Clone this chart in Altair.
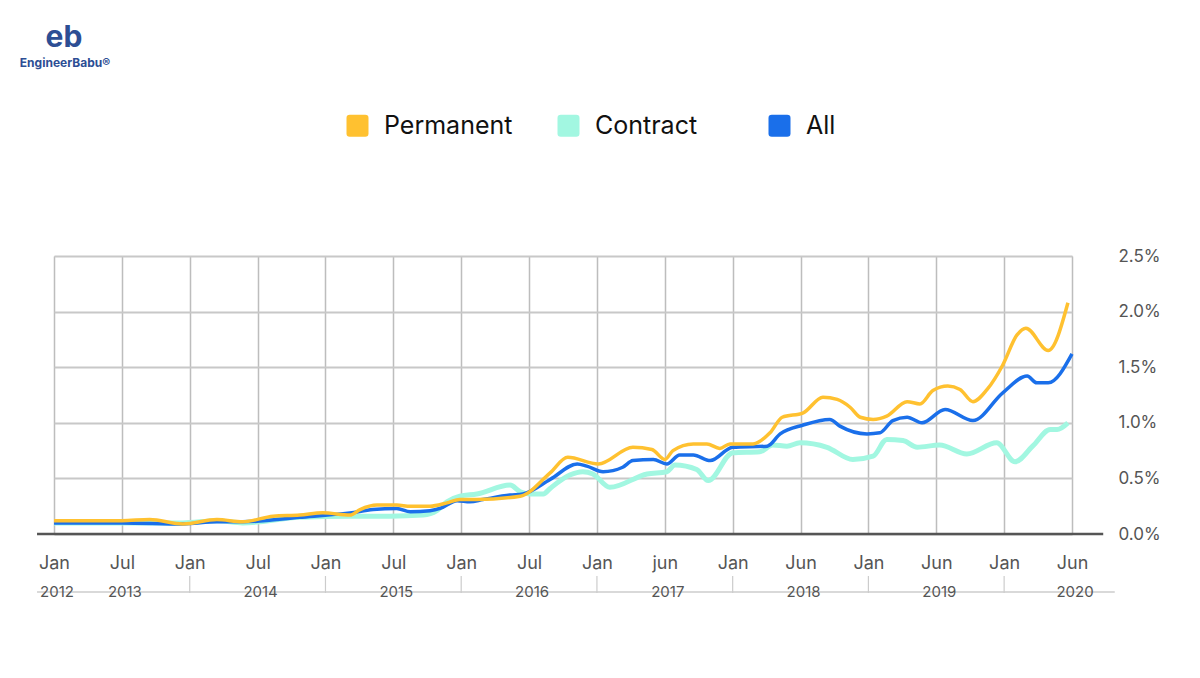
import json
import altair as alt
import pandas as pd

# ---------------- data ----------------
series_names = ["Permanent", "Contract", "All"]
series_colors = ["#FFC130", "#A2F7E1", "#1A6FEA"]

month_labels = ["Jan", "Jul", "Jan", "Jul", "Jan", "Jul", "Jan", "Jul",
                "Jan", "jun", "Jan", "Jun", "Jan", "Jun", "Jan", "Jun"]
month_pos = list(range(16))
year_labels = ["2012", "2013", "2014", "2015", "2016", "2017", "2018", "2019", "2020"]
year_pos = [0, 1, 3, 5, 7, 9, 11, 13, 15]
jan_tick_pos = [2, 4, 6, 8, 10, 12, 14]
y_ticks = [0, 0.5, 1.0, 1.5, 2.0, 2.5]

perm_x = [0, 1.0, 1.41, 1.9, 2.4, 2.78, 3.23, 3.62, 3.96, 4.36, 4.51, 4.76, 5.05, 5.25,
          5.54, 5.79, 5.98, 6.23, 6.87, 7.31, 7.57, 8.02, 8.53, 8.81, 9.0, 9.12, 9.42,
          9.62, 9.81, 9.96, 10.3, 10.55, 10.73, 11.04, 11.33, 11.54, 11.73, 11.88, 12.07,
          12.27, 12.57, 12.76, 12.95, 13.17, 13.35, 13.54, 13.75, 13.98, 14.19, 14.32,
          14.65, 14.94]
perm_y = [0.12, 0.12, 0.13, 0.09, 0.13, 0.11, 0.16, 0.17, 0.19, 0.17, 0.22, 0.26, 0.26,
          0.25, 0.25, 0.28, 0.31, 0.31, 0.34, 0.55, 0.69, 0.63, 0.78, 0.76, 0.67, 0.75,
          0.81, 0.81, 0.77, 0.81, 0.81, 0.91, 1.05, 1.09, 1.23, 1.21, 1.14, 1.05, 1.03,
          1.06, 1.19, 1.17, 1.29, 1.33, 1.30, 1.19, 1.30, 1.52, 1.79, 1.85, 1.65, 2.08]

contract_x = [0, 1.0, 1.9, 2.4, 2.78, 3.62, 4.36, 4.95, 5.44, 5.64, 5.79, 5.98, 6.23, 6.72,
              6.87, 7.01, 7.21, 7.31, 7.60, 7.79, 7.94, 8.19, 8.74, 9.03, 9.15, 9.47, 9.64,
              10.0, 10.40, 10.59, 10.80, 10.99, 11.39, 11.77, 12.07, 12.27, 12.51, 12.72,
              13.05, 13.45, 13.89, 14.16, 14.42, 14.68, 14.78, 14.94]
contract_y = [0.10, 0.10, 0.10, 0.12, 0.10, 0.15, 0.16, 0.16, 0.17, 0.21, 0.29, 0.34, 0.36,
              0.44, 0.38, 0.36, 0.36, 0.41, 0.53, 0.56, 0.54, 0.42, 0.54, 0.56, 0.62, 0.58,
              0.48, 0.73, 0.74, 0.80, 0.79, 0.82, 0.78, 0.67, 0.70, 0.85, 0.84, 0.78, 0.80,
              0.72, 0.82, 0.65, 0.79, 0.94, 0.94, 1.00]

all_x = [0, 1.0, 1.9, 2.4, 2.78, 3.62, 4.36, 4.70, 5.05, 5.25, 5.54, 5.69, 5.94, 6.13,
         6.32, 6.72, 6.91, 7.31, 7.71, 7.85, 8.09, 8.38, 8.53, 8.83, 9.03, 9.22, 9.42,
         9.67, 10.0, 10.51, 10.70, 11.04, 11.43, 11.58, 11.98, 12.17, 12.36, 12.57, 12.79,
         13.13, 13.54, 13.98, 14.34, 14.48, 14.65, 15.0]
all_y = [0.10, 0.10, 0.09, 0.11, 0.11, 0.15, 0.19, 0.22, 0.23, 0.20, 0.21, 0.23, 0.30,
         0.29, 0.31, 0.35, 0.36, 0.49, 0.63, 0.61, 0.56, 0.60, 0.66, 0.67, 0.63, 0.71,
         0.71, 0.66, 0.78, 0.79, 0.90, 0.98, 1.03, 0.97, 0.90, 0.91, 1.02, 1.05, 1.00,
         1.12, 1.02, 1.27, 1.42, 1.36, 1.36, 1.62]

logo_mark = "eb"
logo_text = "EngineerBabu®"

# ---------------- frames ----------------
def frame(name, xs, ys):
    return pd.DataFrame({"idx": xs, "value": ys, "series": name})

df_perm = frame("Permanent", perm_x, perm_y)
df_con = frame("Contract", contract_x, contract_y)
df_all = frame("All", all_x, all_y)

FONT = "Inter"
GREY = "#555555"
W, H = 1018, 278

xscale = alt.Scale(domain=[0, 15], nice=False, zero=False)
yscale = alt.Scale(domain=[0, 2.5], nice=False)
cscale = alt.Scale(domain=series_names, range=series_colors)

x_axis = alt.Axis(values=month_pos, labelExpr=f"{json.dumps(month_labels)}[datum.value]",
                  domain=False, ticks=False, grid=True, gridColor="#bdbdbd", gridWidth=1.5,
                  labelFontSize=18, labelColor=GREY, labelFont=FONT, labelPadding=20,
                  labelFlush=False, labelOverlap=False, title=None)
y_axis = alt.Axis(orient="right", values=y_ticks,
                  labelExpr="format(datum.value, '.1f') + '%'",
                  domain=False, ticks=False, grid=True, gridColor="#c8c8c8", gridWidth=2,
                  labelFontSize=17, labelColor=GREY, labelFont=FONT, labelPadding=46,
                  labelAlign="left", title=None)

X = lambda f: alt.X(f, scale=xscale, axis=x_axis)
Y = lambda f: alt.Y(f, scale=yscale, axis=y_axis)

def line_layer(df, width):
    return alt.Chart(df).mark_line(strokeWidth=width, interpolate="monotone").encode(
        x=X("idx:Q"),
        y=Y("value:Q"),
        stroke=alt.Stroke("series:N", scale=cscale, legend=None),
    )

l_con = line_layer(df_con, 5)
l_all = line_layer(df_all, 3.5)
l_perm = line_layer(df_perm, 3.5)

# legend via clipped (off-plot) filled points; data-driven domain so it is not merged
rounded_sq = ("M -0.7 -1 L 0.7 -1 Q 1 -1 1 -0.7 L 1 0.7 Q 1 1 0.7 1 L -0.7 1 "
              "Q -1 1 -1 0.7 L -1 -0.7 Q -1 -1 -0.7 -1 Z")
legend_df = pd.DataFrame({"name": series_names, "idx": [1, 1, 1], "value": [-3, -3, -3]})
legend_layer = alt.Chart(legend_df).mark_point(filled=True, clip=True, shape=rounded_sq).encode(
    x=X("idx:Q"),
    y=Y("value:Q"),
    fill=alt.Fill("name:N", scale=alt.Scale(range=series_colors), sort=series_names,
                  legend=alt.Legend(
                      orient="none", legendX=291, legendY=-143, direction="horizontal",
                      columns=3, gridAlign="all",
                      title=None, symbolType=rounded_sq, symbolSize=484, symbolOpacity=1,
                      symbolStrokeWidth=0, labelFontSize=25, labelFont=FONT,
                      labelColor="#111111", labelOffset=14, columnPadding=43, padding=0,
                      labelLimit=400)),
)

# baseline
base_df = pd.DataFrame({"x0": [-0.25], "x1": [15.46], "y": [0]})
baseline = alt.Chart(base_df).mark_rule(color=GREY, strokeWidth=2.5).encode(
    x=X("x0:Q"), x2="x1:Q", y=Y("y:Q"))

# year row line and ticks
yr_line_df = pd.DataFrame({"x0": [-0.25], "x1": [15.63]})
yr_line = alt.Chart(yr_line_df).mark_rule(color="#cccccc", strokeWidth=1.5).encode(
    x=X("x0:Q"), x2="x1:Q", y=alt.value(336))

jan_df = pd.DataFrame({"pos": jan_tick_pos})
jan_ticks = alt.Chart(jan_df).mark_rule(color="#cccccc", strokeWidth=1.2).encode(
    x=X("pos:Q"), y=alt.value(320), y2=alt.value(337))

year_df = pd.DataFrame({"pos": year_pos, "label": year_labels})
years = alt.Chart(year_df).mark_text(fontSize=15, font=FONT, color=GREY, dx=3,
                                     baseline="middle").encode(
    x=X("pos:Q"), y=alt.value(336), text="label:N")

# logo
logo_df = pd.DataFrame({"t": [logo_mark]})
logo_icon = alt.Chart(logo_df).mark_text(fontSize=30, font=FONT, fontWeight="bold",
                                         color="#2D4E94", baseline="middle").encode(
    x=alt.value(10), y=alt.value(-218), text="t:N")
logo_txt_df = pd.DataFrame({"t": [logo_text]})
logo_txt = alt.Chart(logo_txt_df).mark_text(fontSize=12, font=FONT, fontWeight="bold",
                                            color="#2D4E94", baseline="middle").encode(
    x=alt.value(11), y=alt.value(-193), text="t:N")

chart = alt.layer(
    l_con, yr_line, jan_ticks, years, l_all, l_perm, baseline, legend_layer, logo_icon, logo_txt
).properties(
    width=W, height=H,
    autosize=alt.AutoSizeParams(type="none"),
    padding={"left": 46, "top": 248, "right": 120, "bottom": 136},
).configure_view(stroke=None).configure(background="white")

chart.save("out.html", embed_options={"renderer": "svg", "actions": False})
